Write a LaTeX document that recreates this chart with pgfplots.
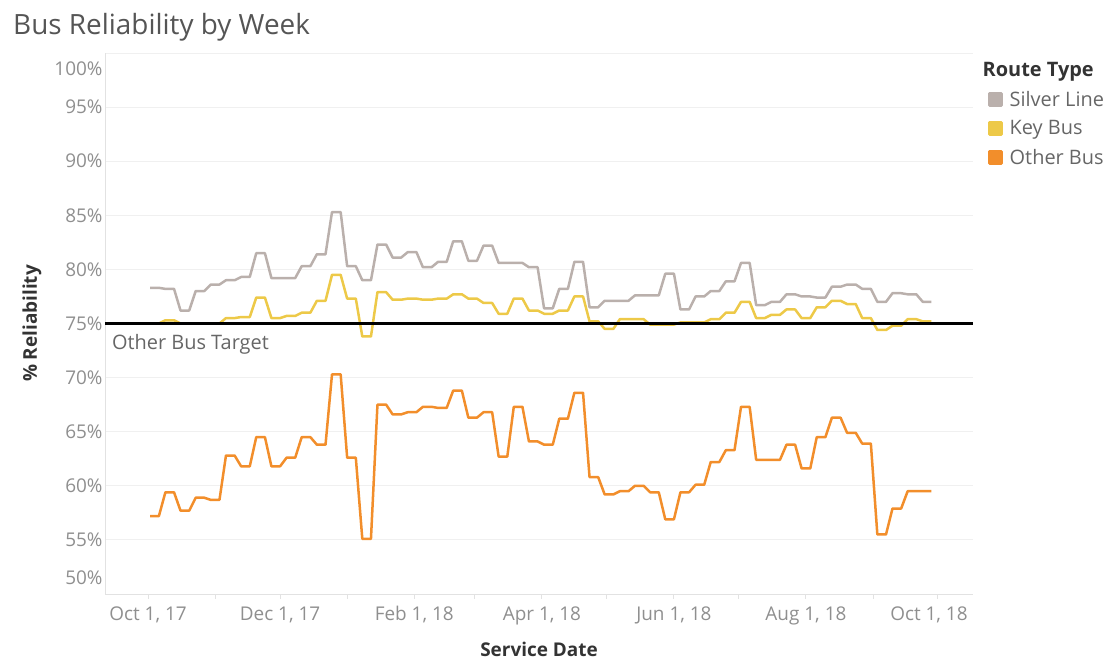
\documentclass[border=0pt]{standalone}
\usepackage{fontspec}
\setmainfont{Open Sans}
\usepackage{pgfplots}
\pgfplotsset{compat=1.18}
\definecolor{silverc}{HTML}{BAB0AC}
\definecolor{keyc}{HTML}{EDC948}
\definecolor{otherc}{HTML}{F28E2B}
\definecolor{titlegray}{HTML}{555555}
\definecolor{tickgray}{HTML}{8F8F8F}
\definecolor{labgray}{HTML}{333333}
\definecolor{leggray}{HTML}{666666}
\definecolor{gridgray}{HTML}{F0F0F0}
\definecolor{axisgray}{HTML}{E2E2E2}
\begin{document}
\begin{tikzpicture}
\useasboundingbox (0bp,0bp) rectangle (1111bp,-659bp);
\node[anchor=base west, text=titlegray, inner sep=0pt, font=\fontsize{28}{32}\selectfont] at (13bp,-34bp) {Bus Reliability by Week};
\begin{axis}[
  at={(105bp,-594bp)}, anchor=south west,
  scale only axis, width=868bp, height=541bp,
  xmin=-19.9, xmax=381.2, ymin=50, ymax=100,
  axis x line*=bottom, axis y line*=left,
  axis line style={-, color=axisgray, line width=1bp},
  xtick={0,31,61,92,123,151,182,212,243,273,304,335,365},
  xticklabels={{Oct 1, 17},,{Dec 1, 17},,{Feb 1, 18},,{Apr 1, 18},,{Jun 1, 18},,{Aug 1, 18},,{\hspace*{-18bp}Oct 1, 18}},
  x tick style={color=axisgray, line width=1bp},
  major tick length=5bp, tick align=outside,
  ytick={50,55,...,100},
  yticklabels={\raisebox{16bp}[\height][\depth]{50\%},55\%,60\%,65\%,70\%,75\%,80\%,85\%,90\%,95\%,\raisebox{-16bp}[\height][\depth]{100\%}},
  y tick style={draw=none},
  ymajorgrids, grid style={color=gridgray, line width=1bp},
  tick label style={font=\fontsize{19}{22}\selectfont, text=tickgray},
  x tick label style={yshift=-4bp},
  y tick label style={xshift=6bp},
  xlabel={Service Date}, ylabel={\% Reliability},
  every axis x label/.style={at={(rel axis cs:0.5,0)}, anchor=center, yshift=-55bp, font=\bfseries\fontsize{19}{22}\selectfont, text=labgray},
  every axis y label/.style={at={(rel axis cs:0,0.5)}, anchor=center, rotate=90, yshift=73bp, font=\bfseries\fontsize{19}{22}\selectfont, text=labgray},
  legend image code/.code={\fill (0bp,-6bp) rectangle (12bp,6bp); \path (17bp,0bp);},
  legend style={draw=none, fill=none, at={(rel axis cs:1.0173,0.987)}, anchor=north west, inner sep=0pt,
    font=\fontsize{20}{23}\selectfont, text=leggray, row sep=9bp},
  legend cell align=left,
  clip=false,
]
\addlegendimage{empty legend}
\addlegendentry{\hspace*{-27bp}\textcolor{labgray}{\bfseries Route Type}}
% Silver Line
\addplot[silverc, line width=2.5bp, mark=none, line join=round] coordinates {
(1,78.3)(5,78.3)(8,78.2)(12,78.2)(15,76.2)(19,76.2)(22,78.0)(26,78.0)(29,78.6)(33,78.6)
(36,79.0)(40,79.0)(43,79.3)(47,79.3)(50,81.5)(54,81.5)(57,79.2)(61,79.2)(64,79.2)(68,79.2)
(71,80.3)(75,80.3)(78,81.4)(82,81.4)(85,85.3)(89,85.3)(92,80.3)(96,80.3)(99,79.0)(103,79.0)
(106,82.3)(110,82.3)(113,81.1)(117,81.1)(120,81.6)(124,81.6)(127,80.2)(131,80.2)(134,80.7)(138,80.7)
(141,82.6)(145,82.6)(148,80.8)(152,80.8)(155,82.2)(159,82.2)(162,80.6)(166,80.6)(169,80.6)(173,80.6)
(176,80.2)(180,80.2)(183,76.4)(187,76.4)(190,78.2)(194,78.2)(197,80.7)(201,80.7)(204,76.5)(208,76.5)
(211,77.1)(215,77.1)(218,77.1)(222,77.1)(225,77.6)(229,77.6)(232,77.6)(236,77.6)(239,79.6)(243,79.6)
(246,76.3)(250,76.3)(253,77.5)(257,77.5)(260,78.0)(264,78.0)(267,78.9)(271,78.9)(274,80.6)(278,80.6)
(281,76.7)(285,76.7)(288,77.0)(292,77.0)(295,77.7)(299,77.7)(302,77.5)(306,77.5)(309,77.4)(313,77.4)
(316,78.4)(320,78.4)(323,78.6)(327,78.6)(330,78.2)(334,78.2)(337,77.0)(341,77.0)(344,77.8)(348,77.8)
(351,77.7)(355,77.7)(358,77.0)(362,77.0)};
\addlegendentry{Silver Line}
% Key Bus
\addplot[keyc, line width=2.5bp, mark=none, line join=round] coordinates {
(1,75.0)(5,75.0)(8,75.3)(12,75.3)(15,75.0)(19,75.0)(22,75.0)(26,75.0)(29,75.0)(33,75.0)
(36,75.5)(40,75.5)(43,75.6)(47,75.6)(50,77.4)(54,77.4)(57,75.5)(61,75.5)(64,75.7)(68,75.7)
(71,76.0)(75,76.0)(78,77.1)(82,77.1)(85,79.5)(89,79.5)(92,77.3)(96,77.3)(99,73.8)(103,73.8)
(106,77.9)(110,77.9)(113,77.2)(117,77.2)(120,77.3)(124,77.3)(127,77.2)(131,77.2)(134,77.3)(138,77.3)
(141,77.7)(145,77.7)(148,77.3)(152,77.3)(155,76.9)(159,76.9)(162,75.9)(166,75.9)(169,77.3)(173,77.3)
(176,76.2)(180,76.2)(183,75.9)(187,75.9)(190,76.2)(194,76.2)(197,77.5)(201,77.5)(204,75.2)(208,75.2)
(211,74.5)(215,74.5)(218,75.4)(222,75.4)(225,75.4)(229,75.4)(232,74.9)(236,74.9)(239,74.9)(243,74.9)
(246,75.1)(250,75.1)(253,75.1)(257,75.1)(260,75.4)(264,75.4)(267,76.0)(271,76.0)(274,77.0)(278,77.0)
(281,75.5)(285,75.5)(288,75.8)(292,75.8)(295,76.3)(299,76.3)(302,75.5)(306,75.5)(309,76.5)(313,76.5)
(316,77.1)(320,77.1)(323,76.8)(327,76.8)(330,75.5)(334,75.5)(337,74.4)(341,74.4)(344,74.8)(348,74.8)
(351,75.4)(355,75.4)(358,75.2)(362,75.2)};
\addlegendentry{Key Bus}
% Other Bus
\addplot[otherc, line width=2.5bp, mark=none, line join=round] coordinates {
(1,57.2)(5,57.2)(8,59.4)(12,59.4)(15,57.7)(19,57.7)(22,58.9)(26,58.9)(29,58.7)(33,58.7)
(36,62.8)(40,62.8)(43,61.8)(47,61.8)(50,64.5)(54,64.5)(57,61.8)(61,61.8)(64,62.6)(68,62.6)
(71,64.5)(75,64.5)(78,63.8)(82,63.8)(85,70.3)(89,70.3)(92,62.6)(96,62.6)(99,55.1)(103,55.1)
(106,67.5)(110,67.5)(113,66.6)(117,66.6)(120,66.8)(124,66.8)(127,67.3)(131,67.3)(134,67.2)(138,67.2)
(141,68.8)(145,68.8)(148,66.3)(152,66.3)(155,66.8)(159,66.8)(162,62.7)(166,62.7)(169,67.3)(173,67.3)
(176,64.1)(180,64.1)(183,63.8)(187,63.8)(190,66.2)(194,66.2)(197,68.6)(201,68.6)(204,60.8)(208,60.8)
(211,59.2)(215,59.2)(218,59.5)(222,59.5)(225,60.0)(229,60.0)(232,59.4)(236,59.4)(239,56.9)(243,56.9)
(246,59.4)(250,59.4)(253,60.1)(257,60.1)(260,62.2)(264,62.2)(267,63.3)(271,63.3)(274,67.3)(278,67.3)
(281,62.4)(285,62.4)(288,62.4)(292,62.4)(295,63.8)(299,63.8)(302,61.6)(306,61.6)(309,64.5)(313,64.5)
(316,66.3)(320,66.3)(323,64.9)(327,64.9)(330,63.9)(334,63.9)(337,55.5)(341,55.5)(344,57.9)(348,57.9)
(351,59.5)(355,59.5)(358,59.5)(362,59.5)};
\addlegendentry{Other Bus}
% Target line
\addplot[black, line width=3.5bp, mark=none, forget plot] coordinates {(-19.9,75)(381.2,75)};
\node[anchor=north west, inner sep=0pt, text=leggray, font=\fontsize{20}{23}\selectfont] at (rel axis cs:0.008,0.48) {Other Bus Target};
\end{axis}
\end{tikzpicture}
\end{document}
